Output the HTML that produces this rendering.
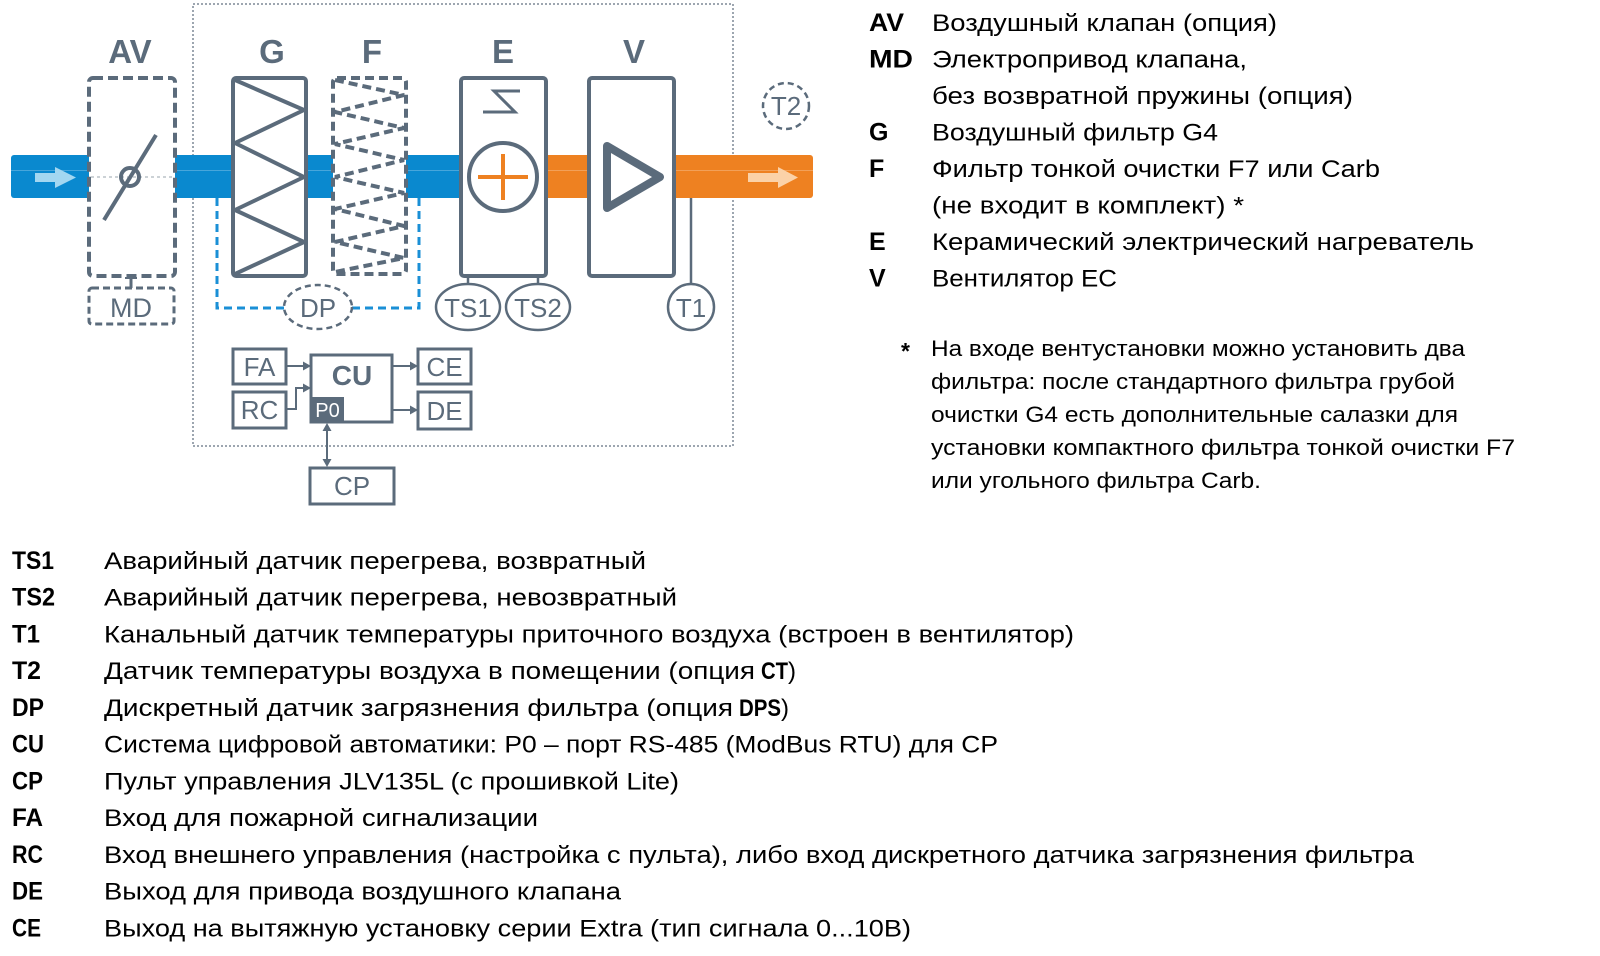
<!DOCTYPE html>
<html>
<head>
<meta charset="utf-8">
<style>
html,body{margin:0;padding:0;background:#fff;}
svg{display:block;}
</style>
</head>
<body>
<svg width="1600" height="956" viewBox="0 0 1600 956" xmlns="http://www.w3.org/2000/svg" font-family="'Liberation Sans', Arial, sans-serif">
<rect width="1600" height="956" fill="#fff"/>

<!-- enclosing dotted box -->
<rect x="193" y="4" width="540" height="442" fill="none" stroke="#7d8995" stroke-width="1.5" stroke-dasharray="2 2"/>

<!-- ducts -->
<rect x="11" y="155" width="470" height="43" rx="3" fill="#0a89cf"/>
<rect x="530" y="155" width="283" height="43" rx="3" fill="#ee8121"/>
<line x1="11" y1="170.5" x2="813" y2="170.5" stroke="#ffffff" stroke-opacity="0.25" stroke-width="1"/>

<!-- inlet arrow -->
<rect x="35" y="173" width="22" height="9" fill="#a3d7f1"/>
<polygon points="55,167 76,177.5 55,188" fill="#a3d7f1"/>
<!-- outlet arrow -->
<rect x="748" y="173" width="32" height="9" fill="#fbd2a8"/>
<polygon points="778,167 798,177.5 778,188" fill="#fbd2a8"/>

<!-- AV damper -->
<rect x="89" y="78" width="86" height="198" rx="4" fill="#fff" stroke="#5b6b7b" stroke-width="4" stroke-dasharray="10 5"/>
<line x1="91" y1="177" x2="173" y2="177" stroke="#9aa4ae" stroke-width="1" stroke-dasharray="3 3"/>
<line x1="104" y1="220" x2="156" y2="135" stroke="#5b6b7b" stroke-width="4"/>
<circle cx="130" cy="177" r="9" fill="none" stroke="#5b6b7b" stroke-width="4"/>
<line x1="131" y1="276" x2="131" y2="288" stroke="#5b6b7b" stroke-width="3"/>
<line x1="125" y1="278" x2="137" y2="278" stroke="#5b6b7b" stroke-width="2"/>
<rect x="89" y="288" width="85" height="36" rx="3" fill="#fff" stroke="#5b6b7b" stroke-width="3" stroke-dasharray="7 4"/>
<text x="131" y="317" font-size="27" fill="#5b6b7b" text-anchor="middle">MD</text>

<!-- G filter -->
<rect x="233" y="78" width="73" height="198" rx="3" fill="#fff" stroke="#5b6b7b" stroke-width="4"/>
<polyline points="235,80 304,110 235,143 304,177 235,210 304,242 235,274" fill="none" stroke="#5b6b7b" stroke-width="4" stroke-linejoin="round"/>

<!-- F filter -->
<rect x="333" y="78" width="73" height="196" rx="4" fill="#fff" stroke="#5b6b7b" stroke-width="4" stroke-dasharray="9 5"/>
<polyline points="335,80 404,95 335,112 404,128 335,144 404,160 335,177 404,193 335,209 404,226 335,242 404,258 335,272" fill="none" stroke="#5b6b7b" stroke-width="4" stroke-dasharray="9 5"/>

<!-- E heater -->
<rect x="461" y="78" width="85" height="198" rx="3" fill="#fff" stroke="#5b6b7b" stroke-width="4"/>
<polyline points="520,91 494,91 515,112 483,112" fill="none" stroke="#5b6b7b" stroke-width="3"/>
<circle cx="503" cy="177" r="34" fill="#fff" stroke="#5b6b7b" stroke-width="4"/>
<line x1="478" y1="177" x2="528" y2="177" stroke="#ee8121" stroke-width="4"/>
<line x1="503" y1="154" x2="503" y2="200" stroke="#ee8121" stroke-width="4"/>

<!-- V fan -->
<rect x="589" y="78" width="85" height="198" rx="3" fill="#fff" stroke="#5b6b7b" stroke-width="4"/>
<polygon points="607,146 607,208 660,177" fill="none" stroke="#5b6b7b" stroke-width="8" stroke-linejoin="round"/>

<!-- top labels -->
<g font-size="33" font-weight="bold" fill="#5b6b7b" text-anchor="middle">
<text x="130" y="63">AV</text>
<text x="272" y="63">G</text>
<text x="372" y="63">F</text>
<text x="503" y="63">E</text>
<text x="634" y="63">V</text>
</g>

<!-- DP blue dashed -->
<path d="M217,198 V308 H284 M352,308 H419 V198" fill="none" stroke="#1a8fd6" stroke-width="3" stroke-dasharray="8 5"/>
<ellipse cx="318" cy="307" rx="34" ry="22" fill="#fff" stroke="#5b6b7b" stroke-width="2.5" stroke-dasharray="6 4"/>
<text x="318" y="317" font-size="26" fill="#5b6b7b" text-anchor="middle">DP</text>

<!-- TS1, TS2 -->
<line x1="468" y1="276" x2="468" y2="285" stroke="#5b6b7b" stroke-width="2.5"/>
<line x1="538" y1="276" x2="538" y2="285" stroke="#5b6b7b" stroke-width="2.5"/>
<ellipse cx="468" cy="307" rx="32" ry="23" fill="#fff" stroke="#5b6b7b" stroke-width="2.5"/>
<ellipse cx="538" cy="307" rx="32" ry="23" fill="#fff" stroke="#5b6b7b" stroke-width="2.5"/>
<text x="468" y="317" font-size="26" fill="#5b6b7b" text-anchor="middle">TS1</text>
<text x="538" y="317" font-size="26" fill="#5b6b7b" text-anchor="middle">TS2</text>

<!-- T1 -->
<line x1="691" y1="198" x2="691" y2="284" stroke="#5b6b7b" stroke-width="2.5"/>
<ellipse cx="691" cy="307" rx="23" ry="23" fill="#fff" stroke="#5b6b7b" stroke-width="2.5"/>
<text x="691" y="317" font-size="26" fill="#5b6b7b" text-anchor="middle">T1</text>

<!-- T2 -->
<circle cx="786" cy="106" r="23" fill="#fff" stroke="#5b6b7b" stroke-width="2.5" stroke-dasharray="6 4"/>
<text x="786" y="115" font-size="26" fill="#5b6b7b" text-anchor="middle">T2</text>

<!-- control section -->
<g fill="#fff" stroke="#5b6b7b" stroke-width="3">
<rect x="233" y="349" width="53" height="35"/>
<rect x="233" y="392" width="53" height="36"/>
<rect x="311" y="355" width="81" height="67"/>
<rect x="418" y="349" width="53" height="35"/>
<rect x="418" y="392" width="53" height="37"/>
<rect x="310" y="468" width="84" height="36"/>
</g>
<rect x="311" y="397" width="33" height="25" fill="#5b6b7b"/>
<g stroke="#5b6b7b" stroke-width="2" fill="none">
<line x1="286" y1="366" x2="304" y2="366"/>
<polyline points="286,409 296,409 296,388 304,388"/>
<line x1="392" y1="366" x2="411" y2="366"/>
<line x1="392" y1="410" x2="411" y2="410"/>
<line x1="327" y1="430" x2="327" y2="460"/>
</g>
<g fill="#5b6b7b">
<polygon points="303,361.5 311,366 303,370.5"/>
<polygon points="303,383.5 311,388 303,392.5"/>
<polygon points="410,361.5 418,366 410,370.5"/>
<polygon points="410,405.5 418,410 410,414.5"/>
<polygon points="322.5,431 327,423 331.5,431"/>
<polygon points="322.5,459 327,467 331.5,459"/>
</g>
<g font-size="26" fill="#5b6b7b" text-anchor="middle">
<text x="259.5" y="376">FA</text>
<text x="259.5" y="419">RC</text>
<text x="444.5" y="376">CE</text>
<text x="444.5" y="420">DE</text>
<text x="352" y="495">CP</text>
</g>
<text x="352" y="385" font-size="28" font-weight="bold" fill="#5b6b7b" text-anchor="middle">CU</text>
<text x="327.5" y="417" font-size="20" fill="#fff" text-anchor="middle">P0</text>

<!-- right legend -->
<g font-size="24" fill="#000">
<g font-weight="bold" font-size="25">
<text x="869" y="31" textLength="35" lengthAdjust="spacingAndGlyphs">AV</text>
<text x="869" y="67.5" textLength="44" lengthAdjust="spacingAndGlyphs">MD</text>
<text x="869" y="140.5">G</text>
<text x="869" y="177">F</text>
<text x="869" y="250">E</text>
<text x="869" y="286.5">V</text>
</g>
<text x="932" y="31" textLength="345" lengthAdjust="spacingAndGlyphs">Воздушный клапан (опция)</text>
<text x="932" y="67.5" textLength="315" lengthAdjust="spacingAndGlyphs">Электропривод клапана,</text>
<text x="932" y="104" textLength="421" lengthAdjust="spacingAndGlyphs">без возвратной пружины (опция)</text>
<text x="932" y="140.5" textLength="286" lengthAdjust="spacingAndGlyphs">Воздушный фильтр G4</text>
<text x="932" y="177" textLength="448" lengthAdjust="spacingAndGlyphs">Фильтр тонкой очистки F7 или Carb</text>
<text x="932" y="213.5" textLength="312" lengthAdjust="spacingAndGlyphs">(не входит в комплект) *</text>
<text x="932" y="250" textLength="542" lengthAdjust="spacingAndGlyphs">Керамический электрический нагреватель</text>
<text x="932" y="286.5" textLength="185" lengthAdjust="spacingAndGlyphs">Вентилятор ЕС</text>
</g>

<!-- footnote -->
<g font-size="22" fill="#000">
<text x="901" y="359" font-weight="bold" font-size="23">*</text>
<text x="931" y="356" textLength="534" lengthAdjust="spacingAndGlyphs">На входе вентустановки можно установить два</text>
<text x="931" y="389" textLength="524" lengthAdjust="spacingAndGlyphs">фильтра: после стандартного фильтра грубой</text>
<text x="931" y="422" textLength="527" lengthAdjust="spacingAndGlyphs">очистки G4 есть дополнительные салазки для</text>
<text x="931" y="455" textLength="584" lengthAdjust="spacingAndGlyphs">установки компактного фильтра тонкой очистки F7</text>
<text x="931" y="488" textLength="330" lengthAdjust="spacingAndGlyphs">или угольного фильтра Carb.</text>
</g>

<!-- bottom legend -->
<g font-size="24" fill="#000">
<g font-weight="bold" font-size="25">
<text x="12" y="569" textLength="42" lengthAdjust="spacingAndGlyphs">TS1</text>
<text x="12" y="605.7" textLength="43" lengthAdjust="spacingAndGlyphs">TS2</text>
<text x="12" y="642.5" textLength="28" lengthAdjust="spacingAndGlyphs">T1</text>
<text x="12" y="679.2" textLength="29" lengthAdjust="spacingAndGlyphs">T2</text>
<text x="12" y="715.9" textLength="32" lengthAdjust="spacingAndGlyphs">DP</text>
<text x="12" y="752.7" textLength="32" lengthAdjust="spacingAndGlyphs">CU</text>
<text x="12" y="789.4" textLength="31" lengthAdjust="spacingAndGlyphs">CP</text>
<text x="12" y="826.1" textLength="31" lengthAdjust="spacingAndGlyphs">FA</text>
<text x="12" y="862.8" textLength="31" lengthAdjust="spacingAndGlyphs">RC</text>
<text x="12" y="899.6" textLength="31" lengthAdjust="spacingAndGlyphs">DE</text>
<text x="12" y="936.3" textLength="29" lengthAdjust="spacingAndGlyphs">CE</text>
</g>
<text x="104" y="569" textLength="542" lengthAdjust="spacingAndGlyphs">Аварийный датчик перегрева, возвратный</text>
<text x="104" y="605.7" textLength="573" lengthAdjust="spacingAndGlyphs">Аварийный датчик перегрева, невозвратный</text>
<text x="104" y="642.5" textLength="970" lengthAdjust="spacingAndGlyphs">Канальный датчик температуры приточного воздуха (встроен в вентилятор)</text>
<text x="104" y="679.2" textLength="651" lengthAdjust="spacingAndGlyphs">Датчик температуры воздуха в помещении (опция</text>
<text x="761" y="679.2" font-weight="bold" textLength="27" lengthAdjust="spacingAndGlyphs">CT</text>
<text x="788" y="679.2">)</text>
<text x="104" y="715.9" textLength="629" lengthAdjust="spacingAndGlyphs">Дискретный датчик загрязнения фильтра (опция</text>
<text x="739" y="715.9" font-weight="bold" textLength="42" lengthAdjust="spacingAndGlyphs">DPS</text>
<text x="781" y="715.9">)</text>
<text x="104" y="752.7" textLength="894" lengthAdjust="spacingAndGlyphs">Система цифровой автоматики: P0 – порт RS-485 (ModBus RTU) для CP</text>
<text x="104" y="789.4" textLength="575" lengthAdjust="spacingAndGlyphs">Пульт управления JLV135L (с прошивкой Lite)</text>
<text x="104" y="826.1" textLength="434" lengthAdjust="spacingAndGlyphs">Вход для пожарной сигнализации</text>
<text x="104" y="862.8" textLength="1310" lengthAdjust="spacingAndGlyphs">Вход внешнего управления (настройка с пульта), либо вход дискретного датчика загрязнения фильтра</text>
<text x="104" y="899.6" textLength="517" lengthAdjust="spacingAndGlyphs">Выход для привода воздушного клапана</text>
<text x="104" y="936.3" textLength="807" lengthAdjust="spacingAndGlyphs">Выход на вытяжную установку серии Extra (тип сигнала 0...10В)</text>
</g>
</svg>
</body>
</html>
